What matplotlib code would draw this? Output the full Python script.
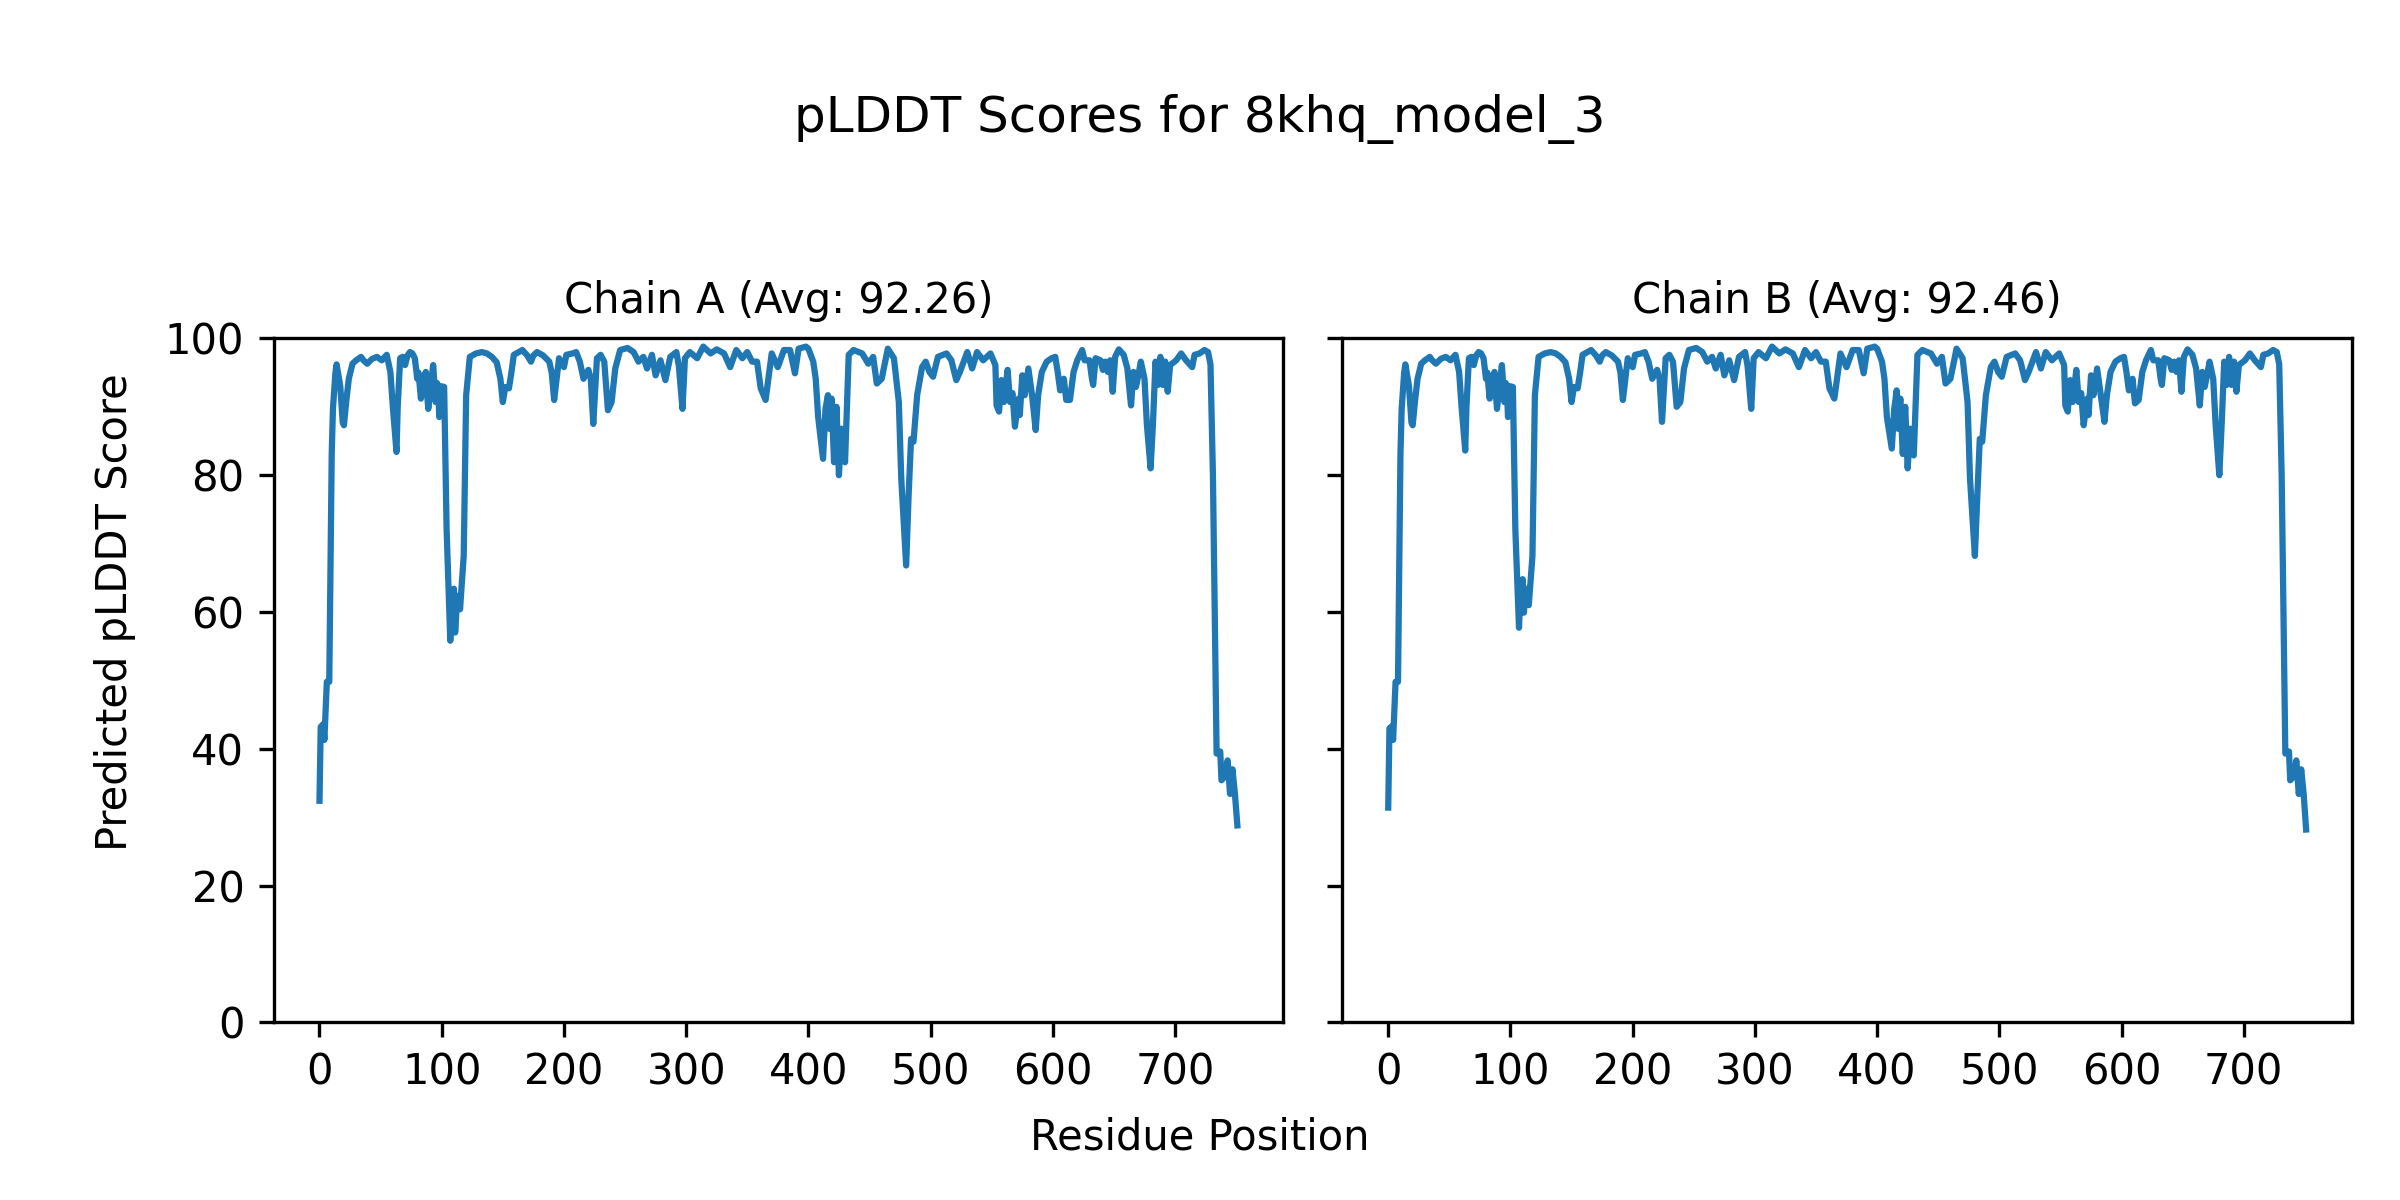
import matplotlib
matplotlib.use("Agg")
import matplotlib.pyplot as plt
from matplotlib.ticker import MultipleLocator

model_name = "8khq_model_3"
chain_names = ["A", "B"]
chain_avgs = [92.26, 92.46]

residue_positions = [
    0, 1, 3, 4, 6, 8, 10, 11, 13, 14,
    17, 19, 20, 22, 24, 27, 30, 34, 36, 39,
    43, 47, 51, 55, 58, 60, 63, 64, 66, 68,
    70, 72, 74, 76, 78, 80, 81, 83, 84, 87,
    88, 89, 91, 93, 95, 96, 97, 98, 100, 102,
    104, 107, 108, 110, 111, 112, 114, 115, 118, 120,
    123, 128, 133, 137, 141, 145, 148, 150, 152, 155,
    157, 159, 166, 170, 173, 175, 178, 183, 188, 190,
    192, 196, 200, 202, 207, 210, 213, 216, 220, 222,
    224, 227, 230, 233, 236, 239, 242, 246, 252, 257,
    261, 265, 268, 272, 275, 279, 283, 287, 292, 294,
    297, 299, 303, 309, 314, 320, 325, 331, 336, 341,
    346, 350, 354, 358, 361, 365, 370, 375, 380, 385,
    389, 392, 398, 400, 404, 406, 408, 412, 414, 416,
    417, 419, 421, 423, 425, 427, 430, 433, 437, 444,
    449, 453, 456, 460, 465, 470, 474, 476, 480, 482,
    484, 486, 489, 493, 496, 499, 502, 506, 513, 517,
    521, 524, 530, 534, 538, 543, 549, 553, 554, 556,
    558, 560, 563, 565, 567, 569, 572, 573, 575, 577,
    580, 583, 586, 588, 591, 595, 599, 602, 604, 606,
    609, 611, 614, 617, 620, 624, 626, 630, 632, 633,
    635, 639, 641, 643, 645, 647, 649, 651, 654, 658,
    661, 664, 666, 668, 670, 672, 675, 677, 680, 682,
    684, 686, 688, 690, 692, 694, 696, 701, 705, 709,
    714, 716, 720, 724, 727, 729, 731, 734, 737, 738,
    741, 743, 745, 747, 749, 751,
]

chain_a_scores = [
    32.4, 43.2, 43.6, 41.3, 49.8, 49.8, 83.1, 89.7, 94.9, 96.2,
    93.0, 87.7, 87.3, 91.0, 94.1, 96.3, 96.8, 97.3, 96.8, 96.3,
    97.0, 97.3, 96.8, 97.6, 95.1, 90.0, 83.4, 90.0, 97.1, 97.3,
    96.1, 97.5, 98.0, 97.8, 97.1, 94.1, 95.0, 91.2, 94.0, 95.1,
    92.0, 89.7, 93.0, 96.1, 90.7, 93.5, 93.2, 88.5, 93.0, 92.9,
    72.1, 55.8, 60.0, 63.4, 57.0, 60.0, 62.4, 60.4, 68.2, 91.7,
    97.3, 97.8, 98.0, 97.8, 97.3, 96.5, 94.1, 90.7, 92.9, 92.7,
    95.0, 97.6, 98.3, 97.5, 96.6, 97.5, 98.0, 97.5, 96.6, 95.0,
    91.0, 97.1, 95.8, 97.6, 97.8, 98.0, 96.6, 94.1, 95.4, 94.1,
    87.5, 97.1, 97.6, 96.6, 89.5, 90.7, 95.6, 98.3, 98.6, 98.0,
    96.6, 97.3, 95.6, 97.6, 94.6, 96.8, 93.9, 97.3, 98.0, 96.0,
    89.7, 97.1, 98.0, 97.1, 98.8, 97.8, 98.4, 97.8, 95.8, 98.3,
    97.1, 98.0, 96.6, 96.6, 92.7, 91.0, 97.8, 95.8, 98.3, 98.3,
    94.9, 98.5, 98.8, 98.5, 96.6, 94.1, 88.5, 82.4, 89.7, 91.7,
    86.8, 91.2, 81.9, 90.0, 80.0, 86.8, 81.9, 97.6, 98.3, 97.8,
    96.3, 97.3, 93.4, 94.1, 98.5, 97.1, 90.7, 79.5, 66.8, 77.0,
    85.3, 84.9, 91.7, 95.8, 96.6, 95.1, 94.4, 97.3, 97.8, 96.8,
    93.9, 95.1, 98.0, 95.6, 98.0, 96.8, 97.8, 96.1, 90.2, 89.3,
    93.9, 90.7, 95.4, 90.7, 92.0, 87.1, 91.2, 88.8, 94.6, 91.7,
    95.6, 91.7, 86.6, 91.7, 95.1, 96.6, 97.1, 97.3, 95.1, 92.4,
    94.1, 91.0, 91.0, 95.1, 96.8, 98.3, 96.8, 96.8, 94.1, 93.2,
    97.1, 96.8, 95.4, 96.6, 95.1, 96.8, 92.2, 97.3, 98.4, 97.6,
    95.6, 90.2, 95.1, 92.9, 94.6, 96.6, 94.1, 87.3, 81.0, 87.8,
    96.6, 93.2, 97.3, 93.2, 96.6, 92.2, 96.1, 96.8, 97.8, 96.8,
    95.8, 97.6, 97.8, 98.3, 98.0, 96.2, 80.0, 39.3, 39.6, 35.4,
    36.0, 38.3, 33.4, 37.0, 33.4, 28.8,
]

chain_b_scores = [
    31.4, 43.0, 43.3, 41.3, 49.8, 49.8, 83.1, 89.7, 94.9, 96.2,
    93.0, 87.7, 87.3, 91.0, 94.1, 96.3, 96.8, 97.3, 96.8, 96.3,
    97.0, 97.3, 96.8, 97.6, 95.1, 90.0, 83.6, 90.0, 97.1, 97.3,
    96.1, 97.5, 98.0, 97.8, 97.1, 94.1, 95.0, 91.2, 94.0, 95.1,
    92.0, 89.7, 93.0, 96.1, 90.7, 93.5, 93.2, 88.5, 93.0, 92.9,
    72.1, 57.7, 62.0, 64.8, 59.9, 62.0, 63.4, 61.0, 68.2, 91.7,
    97.3, 97.8, 98.0, 97.8, 97.3, 96.5, 94.1, 90.7, 92.9, 92.7,
    95.0, 97.6, 98.3, 97.5, 96.6, 97.5, 98.0, 97.5, 96.6, 95.0,
    91.0, 97.1, 95.8, 97.6, 97.8, 98.0, 96.6, 94.1, 95.4, 94.1,
    87.8, 97.1, 97.6, 96.6, 90.0, 90.7, 95.6, 98.3, 98.6, 98.0,
    96.6, 97.3, 95.6, 97.6, 94.6, 96.8, 93.9, 97.3, 98.0, 96.0,
    89.7, 97.1, 98.0, 97.1, 98.8, 97.8, 98.4, 97.8, 95.8, 98.3,
    97.1, 98.0, 96.6, 96.6, 92.7, 91.2, 97.8, 95.8, 98.3, 98.3,
    94.9, 98.5, 98.8, 98.5, 96.6, 94.1, 88.5, 83.9, 89.7, 92.4,
    86.8, 91.2, 83.1, 90.0, 81.0, 86.8, 82.9, 97.6, 98.3, 97.8,
    96.3, 97.3, 93.4, 94.1, 98.5, 97.1, 90.7, 79.5, 68.2, 77.0,
    85.3, 84.9, 91.7, 95.8, 96.6, 95.1, 94.4, 97.3, 97.8, 96.8,
    93.9, 95.1, 98.0, 95.6, 98.0, 96.8, 97.8, 96.1, 90.2, 89.3,
    93.9, 90.7, 95.4, 90.7, 92.0, 87.3, 91.2, 88.8, 94.6, 91.7,
    95.6, 91.7, 87.8, 91.7, 95.1, 96.6, 97.1, 97.3, 95.1, 92.4,
    94.1, 90.5, 91.0, 95.1, 96.8, 98.3, 96.8, 96.8, 94.1, 93.2,
    97.1, 96.8, 95.4, 96.6, 95.1, 96.8, 92.2, 97.3, 98.4, 97.6,
    95.6, 90.2, 95.1, 92.9, 94.6, 96.6, 94.1, 87.3, 80.0, 87.8,
    96.6, 93.2, 97.3, 93.2, 96.6, 92.2, 96.1, 96.8, 97.8, 96.8,
    95.8, 97.6, 97.8, 98.3, 98.0, 96.2, 80.0, 39.3, 39.6, 35.4,
    36.0, 38.3, 33.4, 37.0, 33.4, 28.2,
]

assert len(residue_positions) == len(chain_a_scores) == len(chain_b_scores)

fig, axes = plt.subplots(1, 2, figsize=(8, 4), dpi=300, sharey=True)
fig.subplots_adjust(left=0.114, right=0.98, bottom=0.148, top=0.718, wspace=0.0585)

for ax, name, avg, scores in zip(axes, chain_names, chain_avgs,
                                 [chain_a_scores, chain_b_scores]):
    ax.plot(residue_positions, scores, color="#1f77b4", linewidth=1.5)
    ax.set_title(f"Chain {name} (Avg: {avg:.2f})", fontsize=10)
    ax.set_ylim(0, 100)
    ax.xaxis.set_major_locator(MultipleLocator(100))
    ax.tick_params(labelsize=10)

fig.suptitle(f"pLDDT Scores for {model_name}", fontsize=12, y=0.901, va="center")
fig.supxlabel("Residue Position", fontsize=10, y=0.0525, va="center")
fig.supylabel("Predicted pLDDT Score", fontsize=10, x=0.048, y=0.49,
              va="center", ha="center")

fig.savefig("out.png", dpi=300)
